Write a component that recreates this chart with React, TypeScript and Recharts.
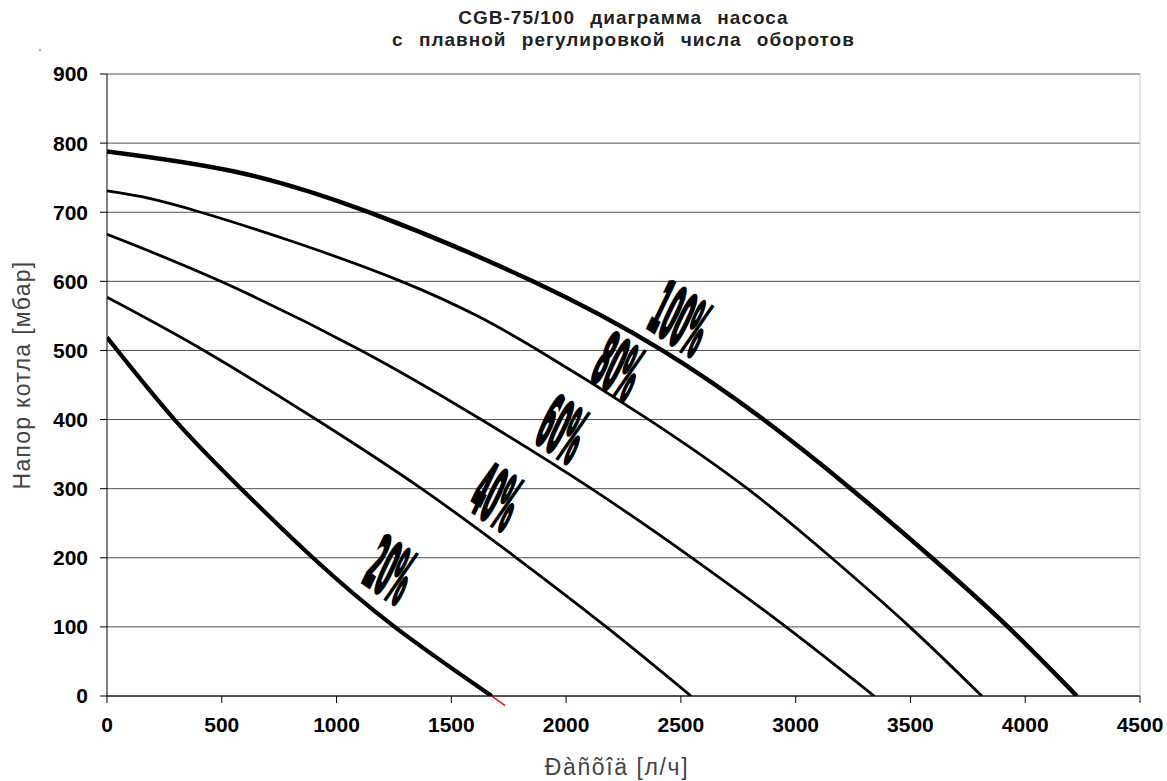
import React from "react";
import {
  LineChart,
  Line,
  XAxis,
  YAxis,
  CartesianGrid,
  ReferenceLine,
  ReferenceDot,
} from "recharts";

// flow [l/h] vs head [mbar]
const flow100 = [0, 554, 1140, 1855, 2419, 2860, 3240, 3593, 3925, 4225];
const head100 = [788, 759, 700, 600, 500, 400, 300, 200, 100, 0];

const flow80 = [0, 408, 1282, 1880, 2360, 2790, 3156, 3497, 3811];
const head80 = [731, 700, 600, 500, 400, 300, 200, 100, 0];

const flow60 = [0, 495, 1107, 1630, 2110, 2548, 2958, 3342];
const head60 = [668, 600, 500, 400, 300, 200, 100, 0];

const flow40 = [0, 422, 912, 1370, 1783, 2175, 2544];
const head40 = [577, 500, 400, 300, 200, 100, 0];

const flow20 = [0, 294, 584, 897, 1253, 1676];
const head20 = [519, 400, 300, 200, 100, 0];

// small red overshoot of the 20% curve below the axis
const redTailFlow = [1676, 1734];
const redTailHead = [0, -14];

const xTicks = [0, 500, 1000, 1500, 2000, 2500, 3000, 3500, 4000, 4500];
const yTicks = [0, 100, 200, 300, 400, 500, 600, 700, 800, 900];

// speed labels, placed in data units
const labelTexts = ["100%", "80%", "60%", "40%", "20%"];
const labelFlow = [2496, 2226, 1982, 1695, 1233];
const labelHead = [545, 475, 385, 287, 181];

const toPoints = (flow: number[], head: number[]) =>
  flow.map((q, i) => ({ q, h: head[i] }));

const curves = [
  { name: "100%", data: toPoints(flow100, head100), width: 4.5 },
  { name: "80%", data: toPoints(flow80, head80), width: 2.8 },
  { name: "60%", data: toPoints(flow60, head60), width: 2.8 },
  { name: "40%", data: toPoints(flow40, head40), width: 2.8 },
  { name: "20%", data: toPoints(flow20, head20), width: 4.2 },
];

const font = '"Liberation Sans", Arial, sans-serif';

function SpeedLabel(props: any) {
  const { cx, cy, text } = props;
  const w = 0.24;
  return (
    <text
      transform={`matrix(${w},${0.67 * w},${-0.48},1,${cx},${cy})`}
      textAnchor="middle"
      dominantBaseline="central"
      fontFamily='"DejaVu Sans", sans-serif'
      fontWeight={700}
      fontSize={64}
      fill="#000"
      stroke="#000"
      strokeWidth={3.4}
      style={{ vectorEffect: "non-scaling-stroke" } as any}
    >
      {text}
    </text>
  );
}

export default function App() {
  return (
    <div
      style={{
        position: "absolute",
        left: 0,
        top: 0,
        width: 1167,
        height: 781,
        background: "#fff",
        fontFamily: font,
      }}
    >
      <div
        style={{
          position: "absolute",
          left: 107,
          top: 7,
          width: 1033,
          textAlign: "center",
          fontSize: 19,
          fontWeight: 700,
          lineHeight: "22px",
          letterSpacing: 1,
          wordSpacing: 9,
          color: "#222",
        }}
      >
        CGB-75/100 диаграмма насоса
        <br />с плавной регулировкой числа оборотов
      </div>
      <div
        style={{
          position: "absolute",
          left: 39,
          top: 49,
          width: 2,
          height: 2,
          background: "#aaa",
        }}
      />
      <div
        style={{
          position: "absolute",
          left: 22,
          top: 375,
          transform: "translate(-50%, -50%) rotate(-90deg)",
          whiteSpace: "nowrap",
          fontSize: 23,
          letterSpacing: 1.3,
          color: "#444",
        }}
      >
        Напор котла [мбар]
      </div>
      <div
        style={{
          position: "absolute",
          left: 617,
          top: 767,
          transform: "translate(-50%, -50%)",
          whiteSpace: "nowrap",
          fontSize: 23,
          letterSpacing: 1.6,
          color: "#444",
        }}
      >
        Ðàñõîä [л/ч]
      </div>
      <LineChart
        width={1167}
        height={781}
        margin={{ top: 74, right: 27, bottom: 55, left: 0 }}
        style={{ position: "absolute", left: 0, top: 0 }}
      >
        <CartesianGrid vertical={false} stroke="#505050" />
        <XAxis
          type="number"
          dataKey="q"
          domain={[0, 4500]}
          ticks={xTicks}
          allowDataOverflow
          height={30}
          stroke="#000"
          tickSize={7}
          tickMargin={14}
          tick={{ fill: "#000", fontSize: 21, fontWeight: 700, fontFamily: font }}
        />
        <YAxis
          type="number"
          dataKey="h"
          domain={[0, 900]}
          ticks={yTicks}
          allowDataOverflow
          width={107}
          stroke="#000"
          tickSize={7}
          tickMargin={12}
          tick={{ fill: "#000", fontSize: 21, fontWeight: 700, fontFamily: font }}
        />
        <ReferenceLine x={4500} stroke="#c8c8c8" />
        {curves.map((c) => (
          <Line
            key={c.name}
            data={c.data}
            dataKey="h"
            type="natural"
            stroke="#000"
            strokeWidth={c.width}
            dot={false}
            isAnimationActive={false}
          />
        ))}
        <ReferenceLine
          segment={[
            { x: redTailFlow[0], y: redTailHead[0] },
            { x: redTailFlow[1], y: redTailHead[1] },
          ]}
          stroke="#ff0000"
          strokeWidth={1.5}
          ifOverflow="visible"
        />
        {labelTexts.map((t, i) => (
          <ReferenceDot
            key={t}
            x={labelFlow[i]}
            y={labelHead[i]}
            r={1}
            ifOverflow="visible"
            shape={(p: any) => <SpeedLabel cx={p.cx} cy={p.cy} text={t} />}
          />
        ))}
      </LineChart>
    </div>
  );
}
